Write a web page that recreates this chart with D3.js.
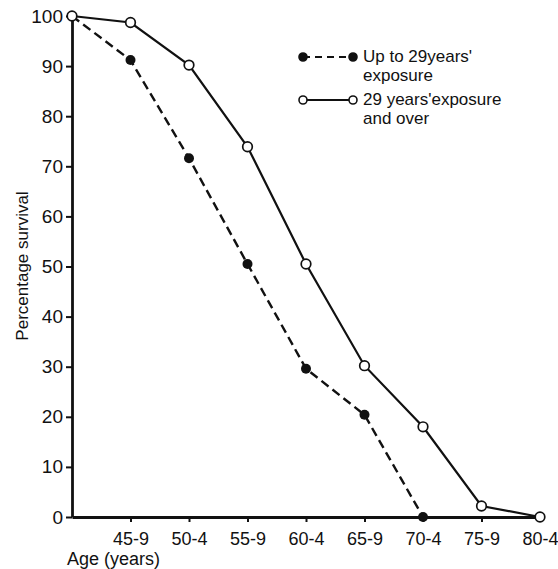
<!DOCTYPE html>
<html>
<head>
	<title> survival </title>
	<script src="https://d3js.org/d3.v7.min.js"></script>
	<style>
		body { margin: 0; background: #fff; }
		text { font-family: "Liberation Sans", Arial, sans-serif; fill: #111; }
	</style>
</head>
<body>
	<svg width="558" height="569"></svg>
	<script type="text/javascript">
		// values
		let ageGroups = ["40-4", "45-9", "50-4", "55-9", "60-4", "65-9", "70-4", "75-9", "80-4"];
		let shortExposure = [100, 91.2, 71.6, 50.5, 29.6, 20.4, 0];
		let longExposure = [100, 98.7, 90.2, 73.9, 50.5, 30.2, 18.0, 2.2, 0];
		let yTicks = [0, 10, 20, 30, 40, 50, 60, 70, 80, 90, 100];
		let seriesNames = [["Up to 29years'", "exposure"], ["29 years'exposure", "and over"]];

		let svg = d3.select("svg");
		let x = d3.scalePoint().domain(ageGroups).range([72, 540]);
		let y = d3.scaleLinear().domain([0, 100]).range([517, 16]);

		// axes
		let xAxis = svg.append("g").attr("transform", "translate(0,517)")
			.call(d3.axisBottom(x).tickValues(ageGroups.slice(1)).tickSize(5).tickSizeOuter(0).tickPadding(10));
		xAxis.select(".domain").attr("stroke-width", 2.8).attr("stroke", "#111");
		xAxis.selectAll(".tick line").attr("stroke-width", 2).attr("stroke", "#111");
		xAxis.selectAll(".tick text").attr("font-size", 18).attr("font-family", "Liberation Sans").attr("fill", "#111");

		let yAxis = svg.append("g").attr("transform", "translate(72,0)")
			.call(d3.axisLeft(y).tickValues(yTicks).tickSize(6).tickSizeOuter(0).tickPadding(3));
		yAxis.select(".domain").attr("stroke-width", 2.8).attr("stroke", "#111");
		yAxis.selectAll(".tick line").attr("stroke-width", 2).attr("stroke", "#111");
		yAxis.selectAll(".tick text").attr("font-size", 19).attr("font-family", "Liberation Sans").attr("fill", "#111");

		svg.append("text")
			.attr("transform", "translate(28,266) rotate(-90)")
			.attr("text-anchor", "middle")
			.attr("font-size", 17)
			.text("Percentage survival");
		svg.append("text")
			.attr("x", 67).attr("y", 565)
			.attr("font-size", 18)
			.text("Age (years)");

		// lines
		let line = d3.line()
			.x(function(d, i) { return x(ageGroups[i]); })
			.y(function(d) { return y(d); });

		svg.append("path").datum(shortExposure)
			.attr("fill", "none").attr("stroke", "#111").attr("stroke-width", 2.4)
			.attr("stroke-dasharray", "9,5")
			.attr("d", line);
		svg.append("path").datum(longExposure)
			.attr("fill", "none").attr("stroke", "#111").attr("stroke-width", 2.2)
			.attr("d", line);

		svg.selectAll("circle.short").data(shortExposure).enter().append("circle")
			.attr("class", "short")
			.attr("cx", function(d, i) { return x(ageGroups[i]); })
			.attr("cy", function(d) { return y(d); })
			.attr("r", 5)
			.attr("fill", "#111");
		svg.selectAll("circle.long").data(longExposure).enter().append("circle")
			.attr("class", "long")
			.attr("cx", function(d, i) { return x(ageGroups[i]); })
			.attr("cy", function(d) { return y(d); })
			.attr("r", 4.8)
			.attr("fill", "#fff").attr("stroke", "#111").attr("stroke-width", 1.7);

		// legend
		let legend = svg.append("g");
		let rows = [57, 100];
		rows.forEach(function(ry, k) {
			legend.append("line")
				.attr("x1", 303).attr("x2", 353).attr("y1", ry).attr("y2", ry)
				.attr("stroke", "#111").attr("stroke-width", 2.2)
				.attr("stroke-dasharray", k == 0 ? "7,5" : null);
			[303, 353].forEach(function(cx) {
				legend.append("circle").attr("cx", cx).attr("cy", ry).attr("r", 4)
					.attr("fill", k == 0 ? "#111" : "#fff")
					.attr("stroke", "#111").attr("stroke-width", 1.6);
			});
			seriesNames[k].forEach(function(t, j) {
				legend.append("text")
					.attr("x", 363).attr("y", ry + 5 + j * 19)
					.attr("font-size", 17)
					.text(t);
			});
		});
	</script>
</body>
</html>
